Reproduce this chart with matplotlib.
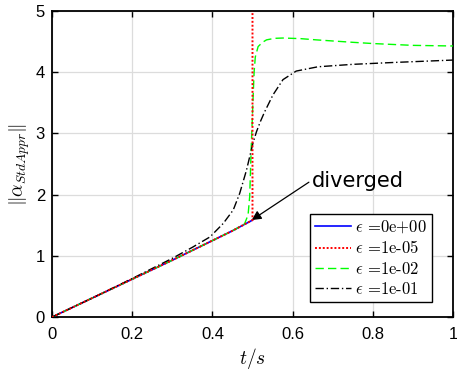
import matplotlib
matplotlib.use("Agg")
import matplotlib.pyplot as plt

plt.rcParams['mathtext.fontset'] = 'cm'
plt.rcParams['font.family'] = ['Liberation Sans', 'DejaVu Sans']

# eps = 0 (blue) and eps = 1e-05 (red) share the same path until t=0.5
t_base = [0.0, 0.1, 0.2, 0.3, 0.4, 0.45, 0.5]
y_base = [0.0, 0.31, 0.62, 0.93, 1.25, 1.41, 1.585]

t_red = [0.0, 0.1, 0.2, 0.3, 0.4, 0.45, 0.5, 0.5]
y_red = [0.0, 0.31, 0.62, 0.93, 1.25, 1.41, 1.585, 5.2]

t_green = [0.0, 0.1, 0.2, 0.3, 0.4, 0.45, 0.48, 0.489, 0.493, 0.497, 0.501,
           0.504, 0.507, 0.514, 0.525, 0.535, 0.555, 0.576, 0.62, 0.659,
           0.75, 0.8, 0.9, 1.0]
y_green = [0.0, 0.31, 0.62, 0.93, 1.25, 1.41, 1.52, 1.67, 1.97, 2.8, 3.5,
           4.0, 4.25, 4.42, 4.49, 4.53, 4.555, 4.56, 4.55, 4.53,
           4.49, 4.47, 4.44, 4.43]

t_black = [0.0, 0.1, 0.2, 0.3, 0.35, 0.394, 0.427, 0.452, 0.468, 0.485, 0.501,
           0.51, 0.52, 0.53, 0.551, 0.576, 0.609, 0.663, 0.75, 0.85, 1.0]
y_black = [0.0, 0.31, 0.63, 0.96, 1.14, 1.31, 1.53, 1.75, 2.02, 2.40, 2.84,
           3.03, 3.2, 3.35, 3.63, 3.88, 4.02, 4.09, 4.13, 4.16, 4.2]

labels = [r'$\epsilon$ =0e+00', r'$\epsilon$ =1e-05', r'$\epsilon$ =1e-02', r'$\epsilon$ =1e-01']
x_ticks = [0, 0.2, 0.4, 0.6, 0.8, 1]
x_ticklabels = ['0', '0.2', '0.4', '0.6', '0.8', '1']
y_ticks = [0, 1, 2, 3, 4, 5]

fig = plt.figure(figsize=(4.57, 3.70), dpi=100)
ax = fig.add_axes([0.1138, 0.143, 0.8774, 0.827])

ax.plot(t_base, y_base, color='#0000ff', lw=1.2, ls='-', label=labels[0], zorder=3)
ax.plot(t_red, y_red, color='#ff0000', lw=1.4, ls=(0, (1, 1)), label=labels[1], zorder=4)
ax.plot(t_green, y_green, color='#00ff00', lw=1.0, ls=(0, (6, 3)), label=labels[2], zorder=3)
ax.plot(t_black, y_black, color='black', lw=1.0, ls=(0, (6, 2, 1, 2)), label=labels[3], zorder=3)

ax.set_xlim(0, 1)
ax.set_ylim(0, 5)
ax.set_xticks(x_ticks)
ax.set_xticklabels(x_ticklabels)
ax.set_yticks(y_ticks)
ax.grid(True, color='#dcdcdc', lw=0.9)
ax.set_axisbelow(True)
ax.tick_params(direction='in', top=True, right=True, length=4, width=1.0,
               labelsize=12)
ax.tick_params(axis='x', pad=7)
ax.tick_params(axis='y', pad=5)
for s in ax.spines.values():
    s.set_linewidth(1.3)

ax.set_xlabel(r'$t/s$', fontsize=14, labelpad=3)
ax.set_ylabel(r'$\|\alpha_{StdAppr}\|$', fontsize=14, labelpad=3)

ax.annotate('diverged', xy=(0.498, 1.585), xytext=(0.6476, 2.12),
            fontsize=15, family='DejaVu Sans', va='baseline', ha='left',
            arrowprops=dict(arrowstyle='-|>', color='black', lw=0.9,
                            mutation_scale=14, shrinkA=0, shrinkB=0,
                            relpos=(0, 0.55)))

leg = ax.legend(loc='lower right', bbox_to_anchor=(0.947, 0.05),
                prop={'family': 'cmr10', 'size': 12}, fancybox=False,
                edgecolor='black', framealpha=1, handlelength=2.15,
                handletextpad=0.25, borderpad=0.3, labelspacing=0.25,
                borderaxespad=0)
leg.get_frame().set_linewidth(1.0)

fig.savefig('out.png', dpi=100)
